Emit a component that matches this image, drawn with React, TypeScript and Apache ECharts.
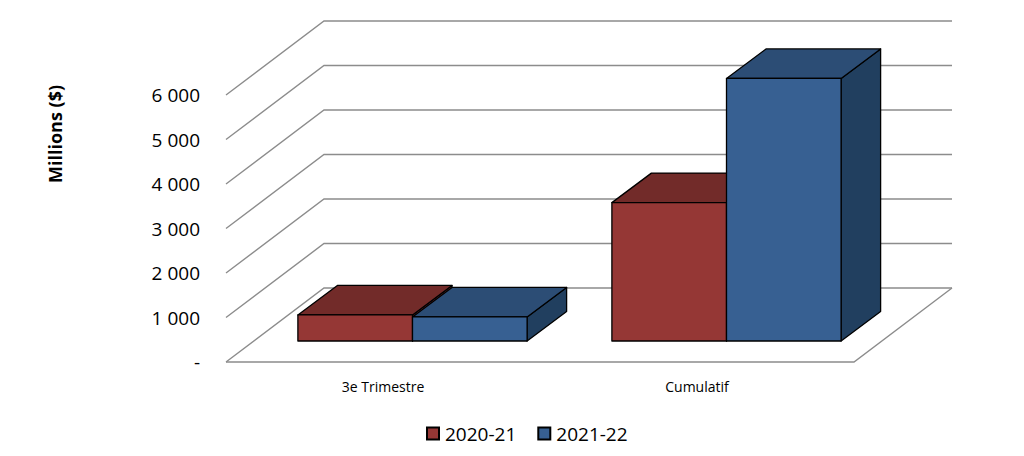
import React, { useEffect, useRef } from "react";
import * as echarts from "echarts";

const categories = ["3e Trimestre", "Cumulatif"];
const series2021 = [585, 3110];
const series2122 = [540, 5900];
const seriesNames = ["2020-21", "2021-22"];
const yTicks = [0, 1000, 2000, 3000, 4000, 5000, 6000];
const yTickLabels = ["-", "1 000", "2 000", "3 000", "4 000", "5 000", "6 000"];

const FONT = "'Open Sans', sans-serif";
const WALL = "#8c8c8c";
const DEPTH_X = 98;
const DEPTH_Y = 74;

function wallItem(params: any, api: any) {
  const cs = params.coordSys;
  const value = api.value(1);
  const [, y] = api.coord([0, value]);
  const left = cs.x;
  const right = cs.x + cs.width;
  const lineStyle = { stroke: WALL, lineWidth: 1.4, fill: "none" };
  const children: any[] = [
    {
      type: "polyline",
      shape: {
        points: [
          [left, y],
          [left + DEPTH_X, y - DEPTH_Y],
          [right + DEPTH_X, y - DEPTH_Y],
        ],
      },
      style: lineStyle,
    },
  ];
  if (value === 0) {
    children.push({
      type: "polyline",
      shape: {
        points: [
          [left, y],
          [right, y],
          [right + DEPTH_X, y - DEPTH_Y],
        ],
      },
      style: lineStyle,
    });
  }
  return { type: "group", children };
}

function barRenderer(seriesIndex: number, front: string, top: string, side: string) {
  return (_params: any, api: any) => {
    const cat = api.value(0);
    const value = api.value(1);
    const band = api.size([1, 0])[0];
    const barW = band * 0.365;
    const center = api.coord([cat, 0])[0];
    const baseY = api.coord([cat, 0])[1];
    const valueY = api.coord([cat, value])[1];
    const x0 = center + 29.5 - barW + seriesIndex * barW;
    const x1 = x0 + barW;
    const y1 = baseY - 21;
    const y0 = valueY - 21;
    const dx = 39.5;
    const dy = 29.5;
    const stroke = { stroke: "#000", lineWidth: 1.3, lineJoin: "round" };
    return {
      type: "group",
      children: [
        {
          type: "polygon",
          shape: { points: [[x1, y0], [x1 + dx, y0 - dy], [x1 + dx, y1 - dy], [x1, y1]] },
          style: { fill: side, ...stroke },
        },
        {
          type: "polygon",
          shape: { points: [[x0, y0], [x0 + dx, y0 - dy], [x1 + dx, y0 - dy], [x1, y0]] },
          style: { fill: top, ...stroke },
        },
        {
          type: "rect",
          shape: { x: x0, y: y0, width: barW, height: y1 - y0 },
          style: { fill: front, ...stroke },
        },
      ],
    };
  };
}

export default function App() {
  const ref = useRef<HTMLDivElement>(null);
  useEffect(() => {
    const chart = echarts.init(ref.current!, undefined, { renderer: "svg" });
    chart.setOption({
      animation: false,
      backgroundColor: "#fff",
      textStyle: { fontFamily: FONT },
      grid: { left: 226, top: 95, width: 628, height: 267, containLabel: false },
      xAxis: {
        type: "category",
        data: categories,
        axisLine: { show: false },
        axisTick: { show: false },
        axisLabel: { fontSize: 14, color: "#000", margin: 17, fontFamily: FONT },
      },
      yAxis: {
        type: "value",
        min: 0,
        max: 6000,
        interval: 1000,
        axisLine: { show: false },
        axisTick: { show: false },
        splitLine: { show: false },
        axisLabel: {
          fontSize: 19,
          color: "#000",
          margin: 26,
          fontFamily: FONT,
          formatter: (v: number) => yTickLabels[yTicks.indexOf(v)],
        },
      },
      legend: {
        left: 426,
        top: 424,
        itemWidth: 12,
        itemHeight: 12,
        itemGap: 21,
        icon: "rect",
        data: seriesNames,
        textStyle: { fontSize: 19, color: "#000", fontFamily: FONT, padding: [0, 0, 0, 1] },
        padding: 0,
      },
      graphic: [
        {
          type: "text",
          x: 55,
          y: 134,
          rotation: Math.PI / 2,
          style: {
            text: "Millions ($)",
            font: `bold 18px ${FONT}`,
            fill: "#000",
            align: "center",
            verticalAlign: "middle",
          },
        },
      ],
      series: [
        {
          type: "custom",
          name: "Grille",
          silent: true,
          renderItem: wallItem,
          encode: { x: 0, y: 1 },
          data: yTicks.map((t) => [0, t]),
        },
        {
          type: "custom",
          name: seriesNames[0],
          renderItem: barRenderer(0, "#953735", "#722B29", "#722B29"),
          encode: { x: 0, y: 1 },
          itemStyle: { color: "#953735", borderColor: "#000", borderWidth: 2 },
          data: series2021.map((v, i) => [i, v]),
        },
        {
          type: "custom",
          name: seriesNames[1],
          renderItem: barRenderer(1, "#376092", "#2C4D75", "#213F5F"),
          encode: { x: 0, y: 1 },
          itemStyle: { color: "#376092", borderColor: "#000", borderWidth: 2 },
          data: series2122.map((v, i) => [i, v]),
        },
      ],
    });
    return () => chart.dispose();
  }, []);
  return (
    <div
      ref={ref}
      style={{ position: "absolute", left: 0, top: 0, width: 1024, height: 456 }}
    />
  );
}
